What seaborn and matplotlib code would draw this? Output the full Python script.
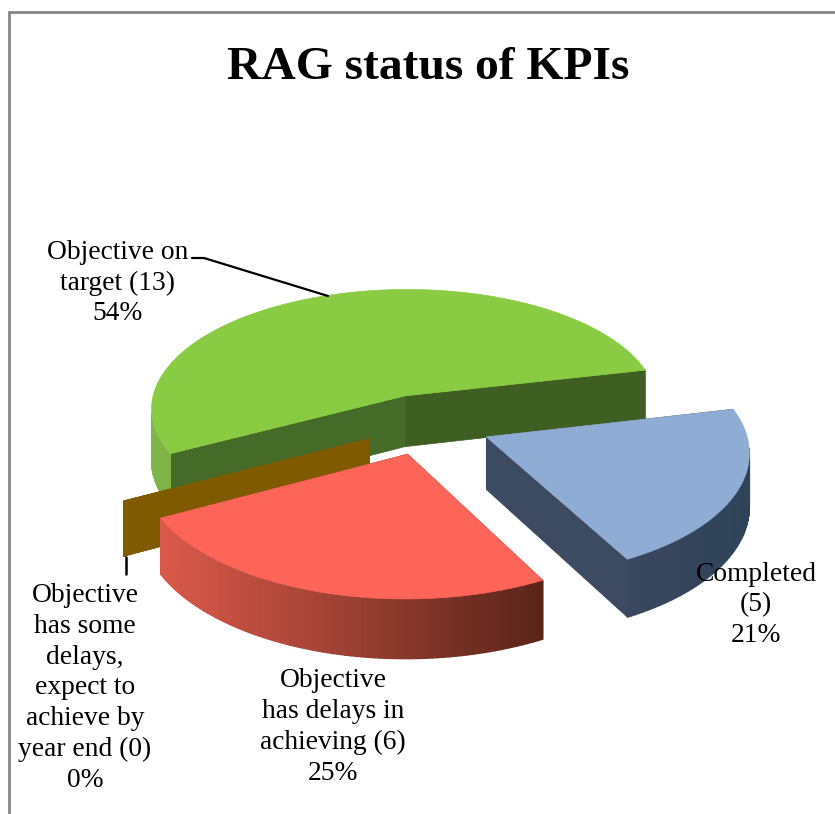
import numpy as np
import matplotlib
matplotlib.use('Agg')
import matplotlib.pyplot as plt
import seaborn as sns
from matplotlib.patches import Polygon

# data, going counter clockwise from the first slice
names = ['Objective on\ntarget', 'Objective\nhas some\ndelays,\nexpect to\nachieve by\nyear end', 'Objective\nhas delays in\nachieving', 'Completed\n']
counts = [13, 0, 6, 5]
percents = [54, 0, 25, 21]

top_colors = ['#8ACB44', '#7F5A00', '#FC6557', '#8FADD4']
wall_left = ['#7FB548', '#7F5A00', '#D9594B', '#3A475E']
wall_right = ['#3E5E22', '#7F5A00', '#5A2419', '#2F4358']
inner_colors = ['#466A27', '#7F5A00', '#8A3A30', '#3C4A62']

# pie geometry in pixels
start_angle = 13
cx, cy = 427, 424
rx, ry = 258, 123
persp = 0.104
depth = 52
explode = 0.25

sns.set_theme(style='white')
fig = plt.figure(figsize=(8.35, 8.14), dpi=100)
ax = fig.add_axes([0, 0, 1, 1])
ax.set_xlim(0, 835)
ax.set_ylim(814, 0)
ax.axis('off')


def project(x, y, z=0):
    s = 1 / (1 + persp * y)
    return cx + rx * x * s, cy - ry * y * s + z * s


def draw_slice(a0, a1, ox, oy, i):
    ts = np.radians(np.linspace(a0, a1, 80))
    rim = [(ox + np.cos(t), oy + np.sin(t)) for t in ts]

    # the two flat cut faces first, the top covers whatever is hidden
    for k, t in enumerate([ts[0], ts[-1]]):
        px, py = ox + np.cos(t), oy + np.sin(t)
        face = [project(ox, oy), project(px, py), project(px, py, depth), project(ox, oy, depth)]
        col = inner_colors[i]
        if i == 0 and k == 0:
            col = wall_right[i]
        ax.add_patch(Polygon(face, closed=True, fc=col, ec=col, lw=0.5, zorder=2 + i))

    # outer wall, shaded across the screen, only the part facing us
    shades = sns.blend_palette([wall_left[i], wall_right[i]], 60)
    xs = np.array([project(*p)[0] for p in rim])
    for j in range(len(rim) - 1):
        if np.sin(ts[j]) > -persp:
            continue
        p, q = rim[j], rim[j + 1]
        frac = (xs[j] - xs.min()) / max(xs.max() - xs.min(), 1)
        col = shades[min(int(frac * 60), 59)]
        quad = [project(*p), project(*q), project(*q, depth), project(*p, depth)]
        ax.add_patch(Polygon(quad, closed=True, fc=col, ec=col, lw=1, zorder=2 + i))

    top = [project(ox, oy)] + [project(*p) for p in rim]
    ax.add_patch(Polygon(top, closed=True, fc=top_colors[i], ec=top_colors[i], lw=0.5, zorder=2 + i))


angle = start_angle
for i, c in enumerate(counts):
    span = 360 * c / sum(counts)
    mid = np.radians(angle + span / 2)
    draw_slice(angle, angle + span, explode * np.cos(mid), explode * np.sin(mid), i)
    angle += span

# frame of the chart area, cut off at the bottom
ax.plot([9, 9, 835], [814, 12, 12], color='#868686', lw=2, zorder=1, solid_joinstyle='miter')

# leader lines
ax.plot([192, 204, 328], [258, 258, 296], color='black', lw=1.6, zorder=8)
ax.plot([126, 126], [557, 574], color='black', lw=1.8, zorder=8)

ax.text(428, 68, 'RAG status of KPIs', family='Liberation Serif', fontweight='bold', fontsize=34.2,
        color='black', ha='center', va='center', zorder=9)

label_pos = [(118, 283), (85, 688), (333, 727), (756, 605)]
for i, (lx, ly) in enumerate(label_pos):
    if i == 3:
        txt = 'Completed\n(%d)\n%d%%' % (counts[i], percents[i])
    else:
        txt = '%s (%d)\n%d%%' % (names[i], counts[i], percents[i])
    ax.text(lx, ly, txt, family='Liberation Serif', fontsize=19.8, color='black', ha='center', va='center',
            linespacing=1.3, zorder=9)

fig.savefig('out.png', dpi=100)
